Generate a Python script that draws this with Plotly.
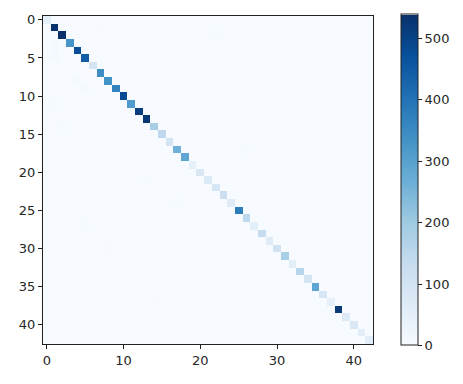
import numpy as np
import plotly.graph_objects as go

n_classes = 43
diag_values = [50, 535, 539, 330, 478, 445, 95, 345, 335, 370, 485, 315, 510, 525,
               185, 145, 97, 265, 290, 48, 80, 72, 88, 120, 65, 380, 145, 56, 130,
               65, 105, 185, 56, 160, 97, 290, 89, 48, 520, 72, 80, 56, 60]
off_rows = [3, 4, 5, 5, 8, 9, 11, 14, 17, 21, 24, 27, 30, 37, 2, 1]
off_cols = [1, 1, 0, 1, 4, 9 - 4, 1, 2, 26, 13, 17, 5, 8, 14, 22, 7]
off_vals = [8, 10, 6, 9, 7, 8, 6, 5, 6, 5, 6, 5, 4, 4, 5, 4]
tick_vals = [0, 5, 10, 15, 20, 25, 30, 35, 40]
x_tick_vals = [0, 10, 20, 30, 40]
cbar_ticks = [0, 100, 200, 300, 400, 500]

cm = np.zeros((n_classes, n_classes))
for i, v in enumerate(diag_values):
    cm[i, i] = v
for r, c, v in zip(off_rows, off_cols, off_vals):
    cm[r, c] = v

blues = [[0.0, '#f7fbff'], [0.125, '#deebf7'], [0.25, '#c6dbef'], [0.375, '#9ecae1'],
         [0.5, '#6baed6'], [0.625, '#4292c6'], [0.75, '#2171b5'], [0.875, '#08519c'],
         [1.0, '#08306b']]

font = dict(family='DejaVu Sans', size=13, color='#262626')

fig = go.Figure(go.Heatmap(
    z=cm, x=list(range(n_classes)), y=list(range(n_classes)),
    colorscale=blues, zmin=0, zmax=max(diag_values),
    colorbar=dict(x=1.085, xanchor='left', y=0.5, yanchor='middle',
                  len=331, lenmode='pixels', thickness=17, thicknessmode='pixels',
                  outlinewidth=1, outlinecolor='#222', tickvals=cbar_ticks,
                  ticks='outside', ticklen=4, tickcolor='#222', tickfont=font,
                  xpad=0, ypad=0),
))

fig.update_layout(
    width=463, height=384,
    margin=dict(l=43, r=88, t=13, b=40),
    paper_bgcolor='white', plot_bgcolor='white',
    font=font,
)
fig.update_xaxes(range=[-0.5, n_classes - 0.5], tickvals=x_tick_vals, ticks='outside',
                 ticklen=4, tickcolor='#222', showline=True, linecolor='#222', mirror=True,
                 showgrid=False, zeroline=False, tickfont=font, constrain='domain')
fig.update_yaxes(range=[n_classes - 0.5, -0.5], tickvals=tick_vals, ticks='outside',
                 ticklen=4, tickcolor='#222', showline=True, linecolor='#222', mirror=True,
                 showgrid=False, zeroline=False, tickfont=font)

fig.write_html("out.html")
